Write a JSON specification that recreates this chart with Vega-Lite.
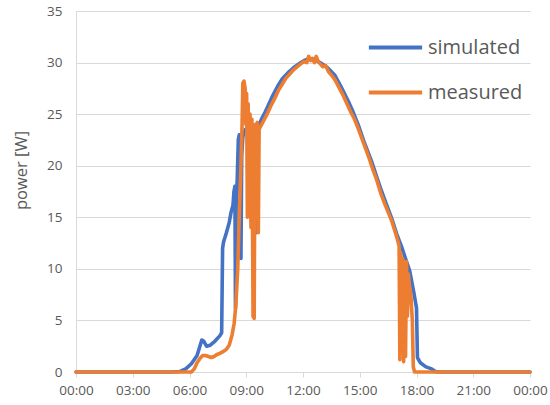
{
  "$schema": "https://vega.github.io/schema/vega-lite/v6.json",
  "width": 454,
  "height": 361,
  "autosize": {"type": "none"},
  "padding": {"left": 76, "top": 11, "right": 20, "bottom": 33},
  "background": "white",
  "config": {
    "view": {"stroke": null},
    "font": "Open Sans"
  },
  "data": {
    "values": [
      {"series":"simulated","time":0,"power":0},
      {"series":"simulated","time":5.0,"power":0},
      {"series":"simulated","time":5.5,"power":0.05},
      {"series":"simulated","time":5.8,"power":0.3},
      {"series":"simulated","time":6.1,"power":0.8},
      {"series":"simulated","time":6.4,"power":1.6},
      {"series":"simulated","time":6.55,"power":2.5},
      {"series":"simulated","time":6.65,"power":3.1},
      {"series":"simulated","time":6.75,"power":3.0},
      {"series":"simulated","time":6.9,"power":2.5},
      {"series":"simulated","time":7.1,"power":2.6},
      {"series":"simulated","time":7.35,"power":3.0},
      {"series":"simulated","time":7.6,"power":3.5},
      {"series":"simulated","time":7.7,"power":3.8},
      {"series":"simulated","time":7.75,"power":12.0},
      {"series":"simulated","time":7.8,"power":12.6},
      {"series":"simulated","time":7.95,"power":13.5},
      {"series":"simulated","time":8.1,"power":14.5},
      {"series":"simulated","time":8.2,"power":15.5},
      {"series":"simulated","time":8.3,"power":16.2},
      {"series":"simulated","time":8.35,"power":17.5},
      {"series":"simulated","time":8.4,"power":18.0},
      {"series":"simulated","time":8.43,"power":6.2},
      {"series":"simulated","time":8.47,"power":17.0},
      {"series":"simulated","time":8.52,"power":18.5},
      {"series":"simulated","time":8.58,"power":22.5},
      {"series":"simulated","time":8.63,"power":23.0},
      {"series":"simulated","time":8.68,"power":19.0},
      {"series":"simulated","time":8.72,"power":11.0},
      {"series":"simulated","time":8.76,"power":21.0},
      {"series":"simulated","time":8.82,"power":22.8},
      {"series":"simulated","time":8.88,"power":23.2},
      {"series":"simulated","time":8.95,"power":23.5},
      {"series":"simulated","time":9.05,"power":23.3},
      {"series":"simulated","time":9.15,"power":23.6},
      {"series":"simulated","time":9.25,"power":23.4},
      {"series":"simulated","time":9.35,"power":23.0},
      {"series":"simulated","time":9.45,"power":23.2},
      {"series":"simulated","time":9.52,"power":13.5},
      {"series":"simulated","time":9.57,"power":23.5},
      {"series":"simulated","time":9.65,"power":23.8},
      {"series":"simulated","time":9.8,"power":24.5},
      {"series":"simulated","time":10.0,"power":25.2},
      {"series":"simulated","time":10.15,"power":25.8},
      {"series":"simulated","time":10.4,"power":26.8},
      {"series":"simulated","time":10.66,"power":27.7},
      {"series":"simulated","time":10.9,"power":28.4},
      {"series":"simulated","time":11.2,"power":29.0},
      {"series":"simulated","time":11.5,"power":29.5},
      {"series":"simulated","time":11.8,"power":29.9},
      {"series":"simulated","time":12.07,"power":30.2},
      {"series":"simulated","time":12.35,"power":30.4},
      {"series":"simulated","time":12.6,"power":30.3},
      {"series":"simulated","time":12.9,"power":30.0},
      {"series":"simulated","time":13.3,"power":29.5},
      {"series":"simulated","time":13.67,"power":28.8},
      {"series":"simulated","time":14.0,"power":27.7},
      {"series":"simulated","time":14.38,"power":26.3},
      {"series":"simulated","time":14.65,"power":25.2},
      {"series":"simulated","time":14.91,"power":24.0},
      {"series":"simulated","time":15.25,"power":22.2},
      {"series":"simulated","time":15.61,"power":20.5},
      {"series":"simulated","time":15.9,"power":18.9},
      {"series":"simulated","time":16.14,"power":17.6},
      {"series":"simulated","time":16.4,"power":16.3},
      {"series":"simulated","time":16.67,"power":15.0},
      {"series":"simulated","time":16.95,"power":13.4},
      {"series":"simulated","time":17.2,"power":12.2},
      {"series":"simulated","time":17.4,"power":11.1},
      {"series":"simulated","time":17.64,"power":9.8},
      {"series":"simulated","time":17.85,"power":7.8},
      {"series":"simulated","time":18.0,"power":6.2},
      {"series":"simulated","time":18.05,"power":1.4},
      {"series":"simulated","time":18.2,"power":0.9},
      {"series":"simulated","time":18.5,"power":0.5},
      {"series":"simulated","time":18.8,"power":0.3},
      {"series":"simulated","time":19.0,"power":0.05},
      {"series":"simulated","time":19.2,"power":0},
      {"series":"simulated","time":24,"power":0},
      {"series":"measured","time":0,"power":0},
      {"series":"measured","time":6.1,"power":0},
      {"series":"measured","time":6.25,"power":0.3},
      {"series":"measured","time":6.4,"power":0.9},
      {"series":"measured","time":6.55,"power":1.3},
      {"series":"measured","time":6.7,"power":1.6},
      {"series":"measured","time":6.85,"power":1.6},
      {"series":"measured","time":7.0,"power":1.5},
      {"series":"measured","time":7.15,"power":1.4},
      {"series":"measured","time":7.3,"power":1.5},
      {"series":"measured","time":7.45,"power":1.7},
      {"series":"measured","time":7.6,"power":1.8},
      {"series":"measured","time":7.8,"power":2.0},
      {"series":"measured","time":7.95,"power":2.2},
      {"series":"measured","time":8.1,"power":2.6},
      {"series":"measured","time":8.25,"power":3.6},
      {"series":"measured","time":8.36,"power":4.7},
      {"series":"measured","time":8.45,"power":6.5},
      {"series":"measured","time":8.55,"power":10.0},
      {"series":"measured","time":8.63,"power":15.0},
      {"series":"measured","time":8.72,"power":20.0},
      {"series":"measured","time":8.78,"power":24.0},
      {"series":"measured","time":8.82,"power":28.0},
      {"series":"measured","time":8.88,"power":28.2},
      {"series":"measured","time":8.94,"power":27.5},
      {"series":"measured","time":8.98,"power":24.0},
      {"series":"measured","time":9.02,"power":27.0},
      {"series":"measured","time":9.06,"power":15.0},
      {"series":"measured","time":9.1,"power":26.0},
      {"series":"measured","time":9.15,"power":18.0},
      {"series":"measured","time":9.2,"power":25.0},
      {"series":"measured","time":9.25,"power":14.0},
      {"series":"measured","time":9.3,"power":24.5},
      {"series":"measured","time":9.36,"power":5.4},
      {"series":"measured","time":9.42,"power":5.2},
      {"series":"measured","time":9.46,"power":24.0},
      {"series":"measured","time":9.52,"power":16.0},
      {"series":"measured","time":9.58,"power":24.2},
      {"series":"measured","time":9.64,"power":13.5},
      {"series":"measured","time":9.68,"power":23.5},
      {"series":"measured","time":9.75,"power":23.8},
      {"series":"measured","time":9.9,"power":24.3},
      {"series":"measured","time":10.1,"power":25.0},
      {"series":"measured","time":10.3,"power":25.8},
      {"series":"measured","time":10.5,"power":26.5},
      {"series":"measured","time":10.7,"power":27.3},
      {"series":"measured","time":10.9,"power":27.9},
      {"series":"measured","time":11.1,"power":28.5},
      {"series":"measured","time":11.3,"power":28.9},
      {"series":"measured","time":11.5,"power":29.3},
      {"series":"measured","time":11.7,"power":29.6},
      {"series":"measured","time":11.9,"power":29.9},
      {"series":"measured","time":12.05,"power":30.1},
      {"series":"measured","time":12.2,"power":30.0},
      {"series":"measured","time":12.3,"power":30.6},
      {"series":"measured","time":12.4,"power":30.2},
      {"series":"measured","time":12.5,"power":30.4},
      {"series":"measured","time":12.6,"power":30.0},
      {"series":"measured","time":12.7,"power":30.6},
      {"series":"measured","time":12.8,"power":30.1},
      {"series":"measured","time":12.9,"power":29.9},
      {"series":"measured","time":13.05,"power":29.6},
      {"series":"measured","time":13.2,"power":29.7},
      {"series":"measured","time":13.35,"power":29.1},
      {"series":"measured","time":13.5,"power":28.8},
      {"series":"measured","time":13.7,"power":28.3},
      {"series":"measured","time":13.9,"power":27.6},
      {"series":"measured","time":14.1,"power":26.9},
      {"series":"measured","time":14.3,"power":26.1},
      {"series":"measured","time":14.5,"power":25.3},
      {"series":"measured","time":14.7,"power":24.6},
      {"series":"measured","time":14.9,"power":23.7},
      {"series":"measured","time":15.1,"power":22.7},
      {"series":"measured","time":15.3,"power":21.7},
      {"series":"measured","time":15.5,"power":20.7},
      {"series":"measured","time":15.7,"power":19.6},
      {"series":"measured","time":15.9,"power":18.6},
      {"series":"measured","time":16.1,"power":17.4},
      {"series":"measured","time":16.3,"power":16.4},
      {"series":"measured","time":16.5,"power":15.5},
      {"series":"measured","time":16.7,"power":14.6},
      {"series":"measured","time":16.9,"power":13.4},
      {"series":"measured","time":17.0,"power":12.8},
      {"series":"measured","time":17.08,"power":12.2},
      {"series":"measured","time":17.12,"power":1.2},
      {"series":"measured","time":17.17,"power":11.5},
      {"series":"measured","time":17.22,"power":4.0},
      {"series":"measured","time":17.27,"power":11.0},
      {"series":"measured","time":17.32,"power":1.0},
      {"series":"measured","time":17.37,"power":10.5},
      {"series":"measured","time":17.42,"power":1.5},
      {"series":"measured","time":17.47,"power":10.7},
      {"series":"measured","time":17.52,"power":5.4},
      {"series":"measured","time":17.57,"power":9.5},
      {"series":"measured","time":17.62,"power":8.5},
      {"series":"measured","time":17.7,"power":7.5},
      {"series":"measured","time":17.78,"power":5.0},
      {"series":"measured","time":17.83,"power":0.5},
      {"series":"measured","time":17.9,"power":0},
      {"series":"measured","time":24,"power":0}
    ]
  },
  "mark": {"type": "line", "strokeWidth": 3.6, "strokeJoin": "round", "strokeCap": "round"},
  "encoding": {
    "x": {
      "field": "time",
      "type": "quantitative",
      "scale": {"domain": [0, 24], "nice": false, "zero": false},
      "axis": {
        "title": null,
        "values": [0, 3, 6, 9, 12, 15, 18, 21, 24],
        "labelExpr": "(datum.value % 24 < 10 ? '0' : '') + (datum.value % 24) + ':00'",
        "grid": false,
        "domainColor": "#d9d9d9",
        "domainWidth": 1,
        "tickColor": "#d9d9d9",
        "tickSize": 5,
        "labelColor": "#595959",
        "labelFontSize": 13.5,
        "labelFont": "Open Sans",
        "labelPadding": 6,
        "labelFlush": false
      }
    },
    "y": {
      "field": "power",
      "type": "quantitative",
      "scale": {"domain": [0, 35], "nice": false},
      "axis": {
        "title": "power [W]",
        "values": [0, 5, 10, 15, 20, 25, 30, 35],
        "grid": true,
        "gridColor": "#d9d9d9",
        "gridWidth": 1,
        "domain": true,
        "domainColor": "#d9d9d9",
        "ticks": false,
        "labelColor": "#595959",
        "labelFontSize": 13.5,
        "labelFont": "Open Sans",
        "labelPadding": 14,
        "titleColor": "#595959",
        "titleFont": "Open Sans",
        "titleFontSize": 16.5,
        "titleFontWeight": "normal",
        "titleAngle": 270,
        "titleBaseline": "bottom",
        "titleAlign": "center",
        "titleX": -47,
        "titleY": 159
      }
    },
    "color": {
      "field": "series",
      "type": "nominal",
      "scale": {"domain": ["simulated", "measured"], "range": ["#4472C4", "#ED7D31"]},
      "legend": {
        "title": null,
        "orient": "none",
        "legendX": 297,
        "legendY": 14,
        "padding": 0,
        "symbolType": "M-1.3,0H1.3",
        "symbolSize": 1681,
        "symbolStrokeWidth": 4,
        "rowPadding": 12,
        "labelOffset": 10,
        "labelFontSize": 20,
        "labelFont": "Open Sans",
        "labelColor": "#595959",
        "labelLimit": 200
      }
    }
  }
}
